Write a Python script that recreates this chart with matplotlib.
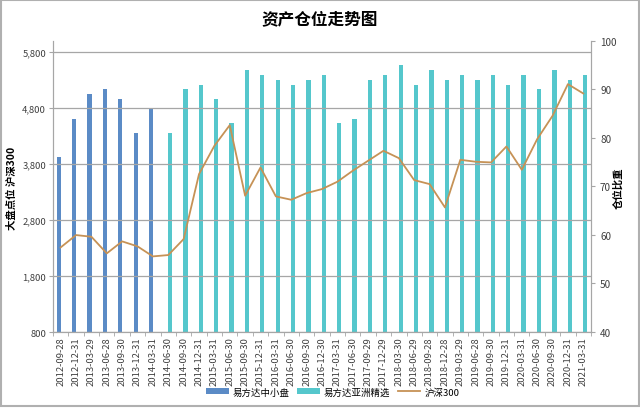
import matplotlib
matplotlib.use('Agg')
import matplotlib.pyplot as plt
import numpy as np

plt.rcParams['font.family'] = ['Noto Sans CJK SC', 'DejaVu Sans']

dates = ['2012-09-28', '2012-12-31', '2013-03-29', '2013-06-28', '2013-09-30',
         '2013-12-31', '2014-03-31', '2014-06-30', '2014-09-30', '2014-12-31',
         '2015-03-31', '2015-06-30', '2015-09-30', '2015-12-31', '2016-03-31',
         '2016-06-30', '2016-09-30', '2016-12-30', '2017-03-31', '2017-06-30',
         '2017-09-29', '2017-12-29', '2018-03-30', '2018-06-29', '2018-09-28',
         '2018-12-28', '2019-03-29', '2019-06-28', '2019-09-30', '2019-12-31',
         '2020-03-31', '2020-06-30', '2020-09-30', '2020-12-31', '2021-03-31']

# position ratio (right axis), small-cap fund first 7 quarters, Asia fund after
small_cap = [76, 84, 89, 90, 88, 81, 86]
asia_pick = [81, 90, 91, 88, 83, 94, 93, 92, 91, 92, 93,
             83, 84, 92, 93, 95, 91, 94, 92, 93, 92, 93, 91, 93, 90, 94, 92, 93]

# CSI 300 index level (left axis)
hs300 = [2312, 2532, 2502, 2205, 2419, 2330, 2151, 2175, 2461, 3621,
         4127, 4496, 3235, 3740, 3223, 3163, 3282, 3354, 3485, 3681,
         3860, 4038, 3907, 3514, 3443, 3026, 3877, 3842, 3830, 4115,
         3699, 4246, 4663, 5229, 5062]

n = len(dates)
x = np.arange(n)
x_small = x[:len(small_cap)]
x_asia = x[len(small_cap):]

blue = '#5B8BC6'
teal = '#55C7CC'
tan = '#C69256'
grid_gray = '#A6A6A6'

fig = plt.figure(figsize=(6.4, 4.1), dpi=100)
ax1 = fig.add_axes([0.0828, 0.1878, 0.8406, 0.7098])
ax2 = ax1.twinx()

w = 0.28
ax2.bar(x_small - 0.12, small_cap, width=w, color=blue, label='易方达中小盘', zorder=2)
ax2.bar(x_asia + 0.12, asia_pick, width=w, color=teal, label='易方达亚洲精选', zorder=2)
ax2.set_ylim(40, 100)
ax2.set_yticks(range(40, 101, 10))

line, = ax1.plot(x, hs300, color=tan, lw=1.3, label='沪深300', zorder=5)
ax1.set_ylim(800, 6000)
ax1.set_yticks(range(800, 5801, 1000))
ax1.set_yticklabels([f'{v:,}' for v in range(800, 5801, 1000)])
ax1.set_xlim(-0.5, n - 0.5)
ax1.grid(axis='y', color=grid_gray, lw=0.9)
ax1.set_axisbelow(True)

# line above bars
ax1.set_zorder(ax2.get_zorder() + 1)
ax1.patch.set_visible(False)

ax1.set_xticks(x)
ax1.set_xticklabels(dates, rotation=90, fontsize=6.8, color='#404040')
ax1.set_xticks(np.arange(-0.5, n, 1), minor=True)
ax1.tick_params(axis='x', which='major', length=0, pad=3)
ax1.tick_params(axis='x', which='minor', length=3, color=grid_gray)
ax1.tick_params(axis='y', labelsize=6.8, labelcolor='#404040', length=3, color=grid_gray, pad=2)
ax2.tick_params(axis='y', labelsize=7.2, labelcolor='#404040', length=3, color=grid_gray)

for ax in (ax1, ax2):
    ax.spines['top'].set_visible(False)
    for s in ('left', 'right', 'bottom'):
        ax.spines[s].set_color(grid_gray)

# axis titles placed in figure coords so they stay inside the picture
fig.text(12 / 640, 1 - 188 / 410, '大盘点位 沪深300', fontsize=7.5, fontweight='bold',
         rotation=90, ha='center', va='center')
fig.text(618 / 640, 1 - 188 / 410, '仓位比重', fontsize=7.5, fontweight='bold',
         rotation=90, ha='center', va='center')

fig.suptitle('资产仓位走势图', fontsize=12, fontweight='bold', y=0.975)

h2, l2 = ax2.get_legend_handles_labels()
h1, l1 = ax1.get_legend_handles_labels()
fig.legend(h2 + h1, l2 + l1, loc='lower center', bbox_to_anchor=(0.52, 0.01),
           ncol=3, frameon=False, fontsize=6.8, handlelength=2.4,
           handleheight=0.6, columnspacing=0.8, handletextpad=0.4)

# outer gray border of the picture
fig.patches.append(plt.Rectangle((0.002, 0.008), 0.996, 0.99, transform=fig.transFigure,
                                 fill=False, edgecolor='#B0B0B0', lw=1.5))

fig.savefig('out.png', dpi=100)
